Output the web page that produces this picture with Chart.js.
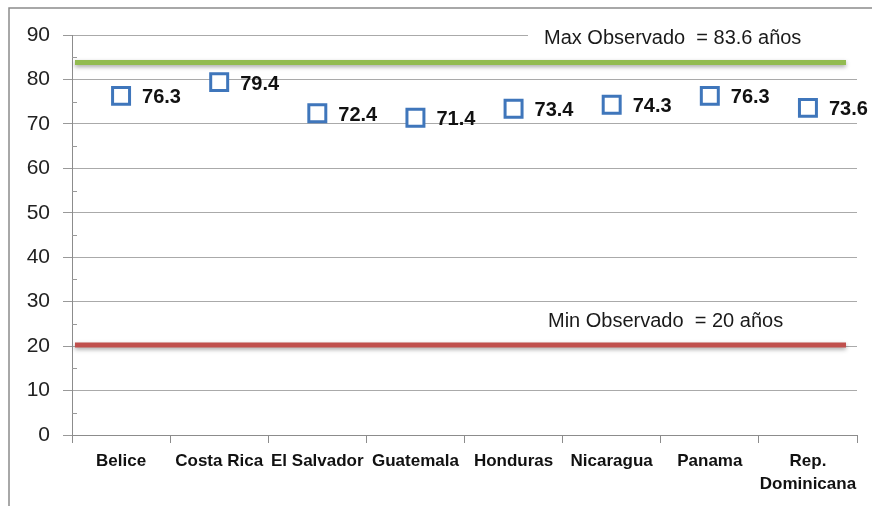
<!DOCTYPE html>
<html lang="es">
<head>
    <meta charset="UTF-8" />
    <title>Esperanza de vida</title>
    <script src="https://cdn.jsdelivr.net/npm/chart.js"></script>
    <style>
        body { margin: 0; background: #fff; }
        #wrap { width: 872px; height: 506px; position: relative; }
    </style>
</head>
<body>
    <div id="wrap"><canvas id="chart" width="872" height="506"></canvas></div>

    <script>
        const paises = ['Belice', 'Costa Rica', 'El Salvador', 'Guatemala', 'Honduras', 'Nicaragua', 'Panama', ['Rep.', 'Dominicana']];
        const valores = [76.3, 79.4, 72.4, 71.4, 73.4, 74.3, 76.3, 73.6];
        const refValores = [83.6, 20];
        const refTextos = ['Max Observado  = 83.6 años', 'Min Observado  = 20 años'];
        const refColores = ['#92bb50', '#c0504d'];

        const FONT = '"Liberation Sans", Arial, sans-serif';

        const marco = {
            id: 'marco',
            beforeDraw(chart) {
                const ctx = chart.ctx;
                ctx.save();
                ctx.strokeStyle = '#8c8c8c';
                ctx.lineWidth = 1.5;
                ctx.beginPath();
                ctx.moveTo(9, 506);
                ctx.lineTo(9, 8);
                ctx.lineTo(872, 8);
                ctx.stroke();
                ctx.restore();
            }
        };

        const referencias = {
            id: 'referencias',
            beforeDatasetsDraw(chart) {
                const ctx = chart.ctx;
                const area = chart.chartArea;
                const y = chart.scales.y;
                ctx.save();
                // minor ticks inside the axis
                ctx.strokeStyle = '#999';
                ctx.lineWidth = 1;
                for (let v = 5; v < 90; v += 10) {
                    const py = Math.round(y.getPixelForValue(v)) + 0.5;
                    ctx.beginPath();
                    ctx.moveTo(area.left, py);
                    ctx.lineTo(area.left + 5, py);
                    ctx.stroke();
                }
                refValores.forEach((v, i) => {
                    const py = y.getPixelForValue(v);
                    // label box hides grid lines
                    ctx.font = '20px ' + FONT;
                    const tx = area.left + (i === 0 ? 472 : 476);
                    ctx.fillStyle = '#fff';
                    ctx.fillRect(tx - 16, py - 42, area.right - tx + 20, 32);
                    ctx.fillStyle = '#1a1a1a';
                    ctx.textBaseline = 'middle';
                    ctx.textAlign = 'left';
                    ctx.fillText(refTextos[i], tx, py - 25);
                    // line
                    ctx.save();
                    ctx.shadowColor = 'rgba(0,0,0,0.35)';
                    ctx.shadowBlur = 4;
                    ctx.shadowOffsetY = 2;
                    ctx.strokeStyle = refColores[i];
                    ctx.lineWidth = 5;
                    ctx.beginPath();
                    ctx.moveTo(area.left + 3, py - 1);
                    ctx.lineTo(area.right - 11, py - 1);
                    ctx.stroke();
                    ctx.restore();
                });
                ctx.restore();
            },
            afterDatasetsDraw(chart) {
                const ctx = chart.ctx;
                const meta = chart.getDatasetMeta(0);
                ctx.save();
                ctx.font = 'bold 20px ' + FONT;
                ctx.fillStyle = '#111';
                ctx.textBaseline = 'middle';
                ctx.textAlign = 'left';
                meta.data.forEach((pt, i) => {
                    ctx.fillText(valores[i].toFixed(1), pt.x + 21, pt.y + 2);
                });
                ctx.restore();
            }
        };

        new Chart(document.getElementById('chart'), {
            type: 'line',
            data: {
                labels: paises,
                datasets: [{
                    data: valores,
                    showLine: false,
                    pointStyle: 'rect',
                    pointRadius: 12,
                    pointHoverRadius: 12,
                    pointBorderWidth: 3,
                    pointBorderColor: '#3f76bb',
                    pointBackgroundColor: '#fff'
                }]
            },
            options: {
                responsive: false,
                animation: false,
                events: [],
                layout: { padding: { top: 35, right: 14, bottom: 0, left: 0 } },
                plugins: { legend: { display: false }, tooltip: { enabled: false } },
                scales: {
                    x: {
                        offset: true,
                        grid: { offset: true, drawOnChartArea: false, color: '#8c8c8c', tickLength: 8 },
                        border: { color: '#8c8c8c' },
                        ticks: {
                            color: '#111',
                            font: { family: FONT, size: 17, weight: 'bold', lineHeight: 1.35 },
                            padding: 7,
                            maxRotation: 0,
                            autoSkip: false
                        },
                        afterFit(scale) { scale.height = 71; }
                    },
                    y: {
                        min: 0,
                        max: 90,
                        ticks: {
                            stepSize: 5,
                            autoSkip: false,
                            color: '#222',
                            font: { family: FONT, size: 21 },
                            padding: 13,
                            callback: v => (v % 10 === 0 ? v : '')
                        },
                        grid: {
                            color: ctx => (ctx.tick && ctx.tick.value % 10 === 0 ? '#aaaaaa' : 'rgba(0,0,0,0)'),
                            tickColor: ctx => (ctx.tick && ctx.tick.value % 10 === 0 ? '#999' : 'rgba(0,0,0,0)'),
                            tickLength: 9
                        },
                        border: { color: '#8c8c8c' },
                        afterFit(scale) { scale.width = 72; }
                    }
                }
            },
            plugins: [marco, referencias]
        });
    </script>
</body>
</html>
